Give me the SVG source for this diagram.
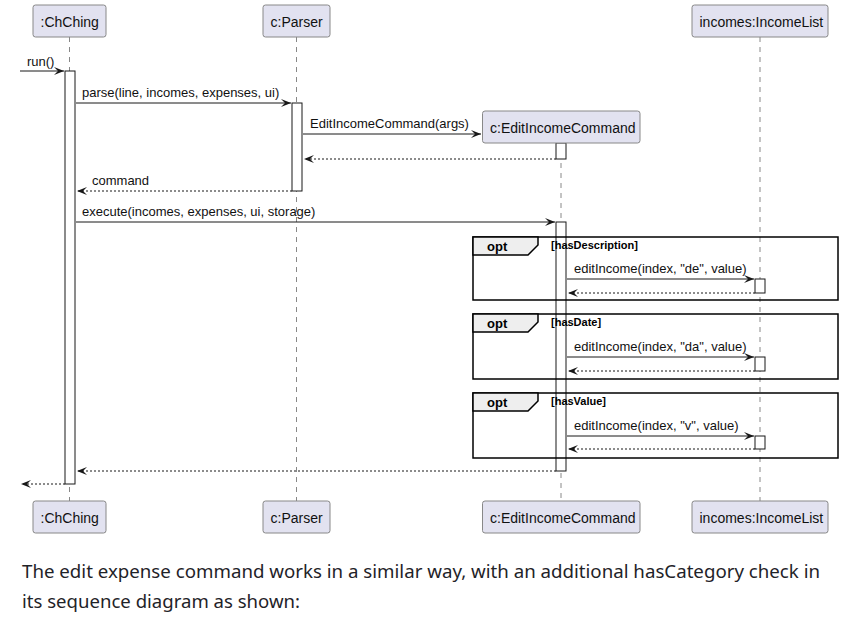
<svg xmlns="http://www.w3.org/2000/svg" width="866" height="622" viewBox="0 0 866 622">
<defs>
<style>
.part rect{fill:#E2E2F0;stroke:#888;stroke-width:1}
.part text{font-family:"Liberation Sans",Arial,sans-serif;font-size:14px;fill:#111}
.life{stroke:#888;stroke-width:1;stroke-dasharray:5,5;fill:none}
.act{fill:#fff;stroke:#181818;stroke-width:1}
.msg{stroke:#181818;stroke-width:1;fill:none;marker-end:url(#ah)}
.ret{stroke:#181818;stroke-width:1;fill:none;stroke-dasharray:2,2;marker-end:url(#ah)}
.lbl{font-family:"Liberation Sans",Arial,sans-serif;font-size:13px;fill:#111}
.frame{fill:none;stroke:#000;stroke-width:1.5}
.tab{fill:#EEEEEE;stroke:#000;stroke-width:1.5}
.optk{font-family:"Liberation Sans",Arial,sans-serif;font-size:13px;font-weight:bold;fill:#000}
.guard{font-family:"Liberation Sans",Arial,sans-serif;font-size:11px;font-weight:bold;fill:#000}
.para{font-family:"Noto Sans","Open Sans",sans-serif;font-size:18px;fill:#1f2328}
</style>
<marker id="ah" viewBox="0 0 10 8" refX="10" refY="4" markerWidth="10" markerHeight="8" markerUnits="userSpaceOnUse" orient="auto">
<path d="M0,0 L10,4 L0,8 L4,4 Z" fill="#181818"/>
</marker>
</defs>
<rect width="866" height="622" fill="#fff"/>

<g id="lifelines">
<line class="life" x1="69.5" y1="37" x2="69.5" y2="501"/>
<line class="life" x1="296.5" y1="37" x2="296.5" y2="501"/>
<line class="life" x1="561" y1="143" x2="561" y2="501"/>
<line class="life" x1="760" y1="37" x2="760" y2="501"/>
</g>

<g id="activations">
<rect class="act" x="65" y="71" width="10" height="413"/>
<rect class="act" x="292" y="103" width="10" height="88"/>
<rect class="act" x="556" y="143" width="10" height="16"/>
<rect class="act" x="556" y="222" width="10" height="249"/>
<rect class="act" x="755" y="279" width="10" height="14"/>
<rect class="act" x="755" y="357" width="10" height="14"/>
<rect class="act" x="755" y="436" width="10" height="13"/>
</g>

<g id="frames">
<g id="opt1">
<rect class="frame" x="473" y="237" width="365" height="63"/>
<path class="tab" d="M473,237 L538,237 L538,245 L528,255 L473,255 Z"/>
<text class="optk" x="487" y="251">opt</text>
<text class="guard" x="551" y="249">[hasDescription]</text>
</g>
<g id="opt2">
<rect class="frame" x="473" y="314" width="365" height="65"/>
<path class="tab" d="M473,314 L538,314 L538,322 L528,332 L473,332 Z"/>
<text class="optk" x="487" y="328">opt</text>
<text class="guard" x="551" y="326">[hasDate]</text>
</g>
<g id="opt3">
<rect class="frame" x="473" y="393" width="365" height="65"/>
<path class="tab" d="M473,393 L538,393 L538,401 L528,411 L473,411 Z"/>
<text class="optk" x="487" y="407">opt</text>
<text class="guard" x="551" y="405">[hasValue]</text>
</g>
</g>

<g id="chching-top" class="part">
<rect x="33" y="5" width="73" height="32" rx="2.5"/>
<text x="40.5" y="26.5">:ChChing</text>
</g>
<g id="parser-top" class="part">
<rect x="263" y="5" width="67" height="32" rx="2.5"/>
<text x="270.5" y="26.5">c:Parser</text>
</g>
<g id="incomelist-top" class="part">
<rect x="692" y="5" width="136" height="32" rx="2.5"/>
<text x="699.5" y="26.5">incomes:IncomeList</text>
</g>
<g id="editcmd-created" class="part">
<rect x="482.5" y="111" width="157.5" height="32" rx="2.5"/>
<text x="490" y="132.5">c:EditIncomeCommand</text>
</g>

<g id="chching-bottom" class="part">
<rect x="33" y="501" width="73" height="32" rx="2.5"/>
<text x="40.5" y="522.5">:ChChing</text>
</g>
<g id="parser-bottom" class="part">
<rect x="263" y="501" width="67" height="32" rx="2.5"/>
<text x="270.5" y="522.5">c:Parser</text>
</g>
<g id="editcmd-bottom" class="part">
<rect x="482.5" y="501" width="157.5" height="32" rx="2.5"/>
<text x="490" y="522.5">c:EditIncomeCommand</text>
</g>
<g id="incomelist-bottom" class="part">
<rect x="692" y="501" width="136" height="32" rx="2.5"/>
<text x="699.5" y="522.5">incomes:IncomeList</text>
</g>

<g id="connectors">
<line class="msg" x1="20" y1="71" x2="64" y2="71"/>
<text class="lbl" x="27" y="66">run()</text>
<line class="msg" x1="76" y1="103" x2="291" y2="103"/>
<text class="lbl" x="82" y="97">parse(line, incomes, expenses, ui)</text>
<line class="msg" x1="303" y1="134" x2="481" y2="134"/>
<text class="lbl" x="310" y="128">EditIncomeCommand(args)</text>
<line class="ret" x1="556" y1="159" x2="304" y2="159"/>
<line class="ret" x1="292" y1="191" x2="77" y2="191"/>
<text class="lbl" x="92" y="185">command</text>
<line class="msg" x1="76" y1="222" x2="555" y2="222"/>
<text class="lbl" x="82" y="216">execute(incomes, expenses, ui, storage)</text>
<line class="msg" x1="567" y1="279" x2="754" y2="279"/>
<text class="lbl" x="574" y="273">editIncome(index, "de", value)</text>
<line class="ret" x1="755" y1="293" x2="568" y2="293"/>
<line class="msg" x1="567" y1="357" x2="754" y2="357"/>
<text class="lbl" x="574" y="351">editIncome(index, "da", value)</text>
<line class="ret" x1="755" y1="371" x2="568" y2="371"/>
<line class="msg" x1="567" y1="436" x2="754" y2="436"/>
<text class="lbl" x="574" y="430">editIncome(index, "v", value)</text>
<line class="ret" x1="755" y1="449" x2="568" y2="449"/>
<line class="ret" x1="556" y1="471" x2="77" y2="471"/>
<line class="ret" x1="65" y1="484" x2="21" y2="484"/>
</g>

<g id="caption">
<text class="para" x="22" y="578" textLength="798" lengthAdjust="spacingAndGlyphs">The edit expense command works in a similar way, with an additional hasCategory check in</text>
<text class="para" x="22" y="608" textLength="278" lengthAdjust="spacingAndGlyphs">its sequence diagram as shown:</text>
</g>
</svg>
